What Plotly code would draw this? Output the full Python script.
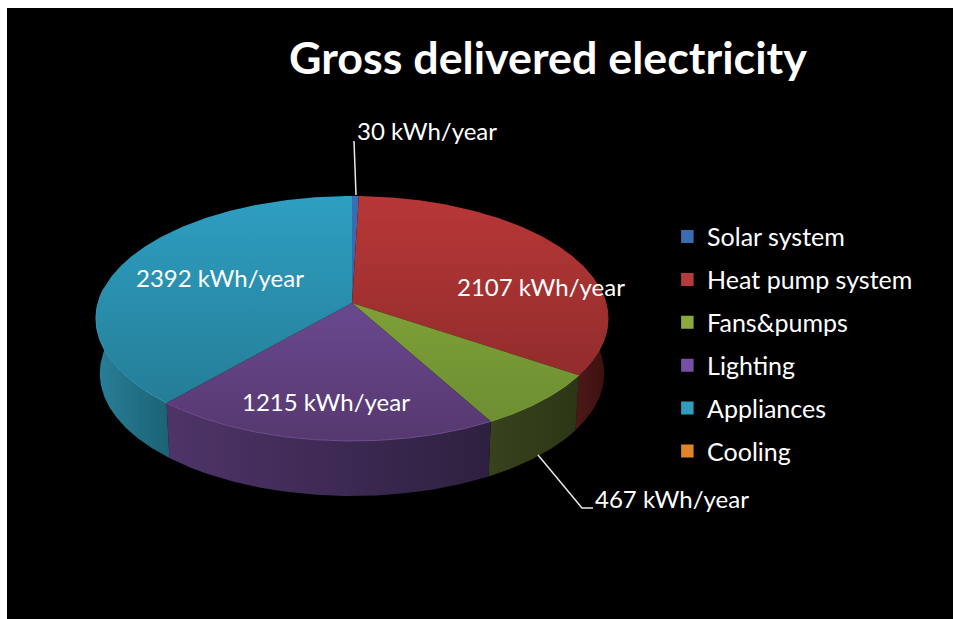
import math
import plotly.graph_objects as go

# ---------- data ----------
categories = ["Solar system", "Heat pump system", "Fans&pumps", "Lighting", "Appliances", "Cooling"]
values = [30, 2107, 467, 1215, 2392, 0]
unit = "kWh/year"
title_text = "Gross delivered electricity"

# ---------- styles ----------
top_colors = {
    "Solar system": ("#3A6DB5", "#2F5C98"),
    "Heat pump system": ("#B83737", "#842828"),
    "Fans&pumps": ("#8DB03C", "#6B8B31"),
    "Lighting": ("#7A55A8", "#56386F"),
    "Appliances": ("#2E9FC2", "#23778F"),
    "Cooling": ("#E08A2E", "#C06F20"),
}
wall_colors = {
    "Solar system": ("#24477A", "#1A3760"),
    "Heat pump system": ("#4E1818", "#3A1010"),
    "Fans&pumps": ("#36431C", "#2C3616"),
    "Lighting": ("#4E3468", "#2E2040"),
    "Appliances": ("#288099", "#1C6274"),
    "Cooling": ("#8A5518", "#6A4010"),
}
rim_colors = {
    "Heat pump system": "#9A3030",
    "Fans&pumps": "#7C9C38",
    "Lighting": "#6F4E92",
    "Appliances": "#2F97B5",
}
legend_colors = ["#3A6DB0", "#B53A3A", "#8AAB3C", "#7650A5", "#2E9DBF", "#DD8528"]

# ---------- pie geometry (pixel space of the picture) ----------
CX, CY, A, B, K = 352, 303, 254, 120.5, 0.1266
DEPTH, WALL_SCALE = 55, 0.985
FONT = "Lato"


def project(theta_deg):
    t = math.radians(theta_deg)
    u, v = math.sin(t), math.cos(t)
    w = 1 + K * v
    return CX + A * u / w, CY - B * v / w


def arc(a0, a1):
    n = max(2, int(abs(a1 - a0) * 2) + 1)
    return [project(a0 + (a1 - a0) * i / (n - 1)) for i in range(n)]


total = sum(values)
spans, acc = [], 0.0
for v in values:
    spans.append((acc, acc + 360.0 * v / total))
    acc += 360.0 * v / total

fig = go.Figure()

# side walls, visible on the front part of the disc only
WALL_FROM, WALL_TO = 83, 277
for cat, (a0, a1) in zip(categories, spans):
    lo, hi = max(a0, WALL_FROM), min(a1, WALL_TO)
    if hi <= lo:
        continue
    rim = arc(lo, hi)
    low = [(CX + (x - CX) * WALL_SCALE, y + DEPTH) for x, y in rim]
    pts = rim + low[::-1] + rim[:1]
    left, right = wall_colors[cat]
    xs = [p[0] for p in pts]
    fig.add_trace(go.Scatter(
        x=xs, y=[p[1] for p in pts], mode="lines", fill="toself",
        line=dict(width=0, color=left), hoverinfo="skip", showlegend=False,
        fillgradient=dict(type="horizontal", colorscale=[[0, left], [1, right]],
                          start=min(xs), stop=max(xs)),
    ))

# top face
for cat, (a0, a1) in zip(categories, spans):
    if a1 <= a0:
        continue
    pts = [(CX, CY)] + arc(a0, a1) + [(CX, CY)]
    c_top, c_bottom = top_colors[cat]
    fig.add_trace(go.Scatter(
        x=[p[0] for p in pts], y=[p[1] for p in pts], mode="lines", fill="toself",
        line=dict(width=0, color=c_top), name=cat, hoverinfo="name", showlegend=False,
        fillgradient=dict(type="vertical", colorscale=[[0, c_top], [1, c_bottom]], start=196, stop=441),
    ))

# soft rim along the front edge of the top face
for cat, (a0, a1) in zip(categories, spans):
    lo, hi = max(a0, WALL_FROM), min(a1, WALL_TO)
    if hi <= lo or cat not in rim_colors:
        continue
    rim = arc(lo, hi)
    fig.add_trace(go.Scatter(
        x=[p[0] for p in rim], y=[p[1] for p in rim], mode="lines",
        line=dict(width=1, color=rim_colors[cat]), hoverinfo="skip", showlegend=False,
    ))

# legend entries
for cat, col in zip(categories, legend_colors):
    fig.add_trace(go.Scatter(
        x=[None], y=[None], mode="markers", name=cat, legendgroup=cat,
        marker=dict(symbol="square", size=13, color=col),
    ))

# leader lines
for lx, ly in (([354, 356], [141, 195]), ([538, 582, 593], [455, 508, 508])):
    fig.add_trace(go.Scatter(x=lx, y=ly, mode="lines", line=dict(color="#E8E8E8", width=1.5),
                             hoverinfo="skip", showlegend=False))

label_pos = {
    "Solar system": (355, 130),
    "Heat pump system": (455, 286),
    "Fans&pumps": (593, 498),
    "Lighting": (240, 401),
    "Appliances": (134, 277),
}
annotations = [
    dict(x=x, y=y, text=f"{values[categories.index(cat)]} {unit}", showarrow=False, xanchor="left",
         yanchor="middle", font=dict(family=FONT, size=24, color="white"))
    for cat, (x, y) in label_pos.items()
]
annotations.append(dict(x=548, y=57, text=f"<b>{title_text}</b>", showarrow=False, xanchor="center",
                        yanchor="middle", font=dict(family=FONT, size=44.8, color="white")))

fig.update_layout(
    width=953, height=619, margin=dict(l=0, r=0, t=0, b=0),
    paper_bgcolor="white", plot_bgcolor="white",
    xaxis=dict(range=[0, 953], visible=False, fixedrange=True),
    yaxis=dict(range=[619, 0], visible=False, fixedrange=True),
    shapes=[dict(type="rect", x0=7, y0=8, x1=953, y1=619, fillcolor="black", line_width=0, layer="below")],
    annotations=annotations,
    legend=dict(x=0.7147, y=0.6547, xanchor="left", yanchor="top", bgcolor="rgba(0,0,0,0)",
                font=dict(family=FONT, size=25, color="white"), tracegroupgap=7.4, indentation=-14,
                itemclick=False, itemdoubleclick=False),
    font=dict(family=FONT, color="white"),
)

fig.write_html("out.html", config={"displayModeBar": False},
               post_script="document.body.style.margin='0';document.body.style.overflow='hidden';")
